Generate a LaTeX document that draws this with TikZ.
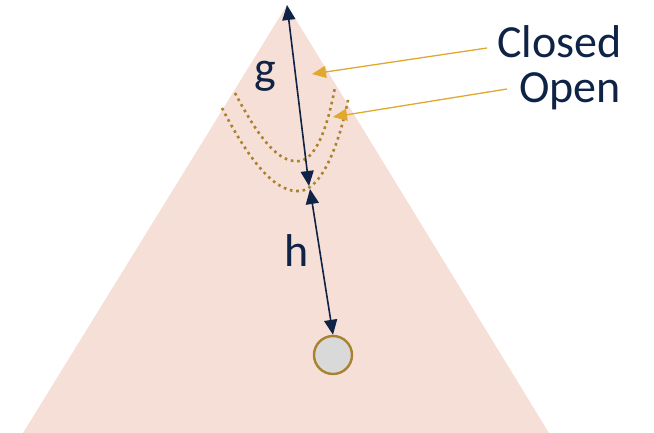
\documentclass[tikz,border=0pt]{standalone}
\usepackage{fontspec}
\setmainfont{Carlito}
\usetikzlibrary{arrows.meta}
\definecolor{conepink}{HTML}{F6DFD7}
\definecolor{navy}{HTML}{0E2345}
\definecolor{gold}{HTML}{E0A82E}
\definecolor{darkgold}{HTML}{A8822E}
\definecolor{nodegray}{HTML}{D9D9D9}
\begin{document}
\begin{tikzpicture}[
    x=1pt, y=-1pt,
    % Estilos
    cone/.style={fill=conepink, draw=none},
    dist/.style={navy, line width=1.6pt, {Triangle[length=15pt,width=13pt]}-{Triangle[length=15pt,width=13pt]}},
    pointer/.style={gold, line width=1.3pt, -{Triangle[length=14pt,width=12pt]}},
    frontier/.style={darkgold, line width=2.6pt, dash pattern=on 2.6pt off 3.8pt},
    lbl/.style={text=navy, font=\fontsize{46}{48}\selectfont, inner sep=0pt},
    goal/.style={circle, fill=nodegray, draw=darkgold, line width=2.4pt, minimum size=38pt, inner sep=0pt}
]
\useasboundingbox (0,0) rectangle (654,433);

% ---------------------------------------------------------
% 1. CONO (triangulo de busqueda)
% ---------------------------------------------------------
\coordinate (apex) at (287,5);
\coordinate (baseL) at (23,433);
\coordinate (baseR) at (549,433);
\fill[cone] (apex) -- (baseR) -- (baseL) -- cycle;

% ---------------------------------------------------------
% 2. FRONTERAS (Closed y Open)
% ---------------------------------------------------------
\draw[frontier] (235,93) .. controls (265,150) and (283,163) .. (300,161)
                         .. controls (318,158) and (329,120) .. (335,87);
\draw[frontier] (222,108) .. controls (253,168) and (278,193) .. (300,191)
                          .. controls (323,189) and (340,140) .. (348,100);

% ---------------------------------------------------------
% 3. NODOS Y TEXTOS
% ---------------------------------------------------------
\node[goal] (target) at (333,355) {};
\coordinate (gend) at (309,186);
\coordinate (hstart) at (310,189);

\node[lbl] (glbl) at (265,76) {g};
\node[lbl] (hlbl) at (297,251) {h};
\node[lbl, anchor=west] (closed) at (497,42) {Closed};
\node[lbl, anchor=west] (open) at (519,91) {Open};

\coordinate (closedtip) at (312,74);
\coordinate (opentip) at (333,117);

% ---------------------------------------------------------
% 4. FLECHAS
% ---------------------------------------------------------
\draw[dist] (apex) -- (gend);
\draw[dist] (hstart) -- (target.north);
\draw[pointer] (closed.west) ++(-10,6) -- (closedtip);
\draw[pointer] (open.west) ++(-12,-2) -- (opentip);

\end{tikzpicture}
\end{document}
